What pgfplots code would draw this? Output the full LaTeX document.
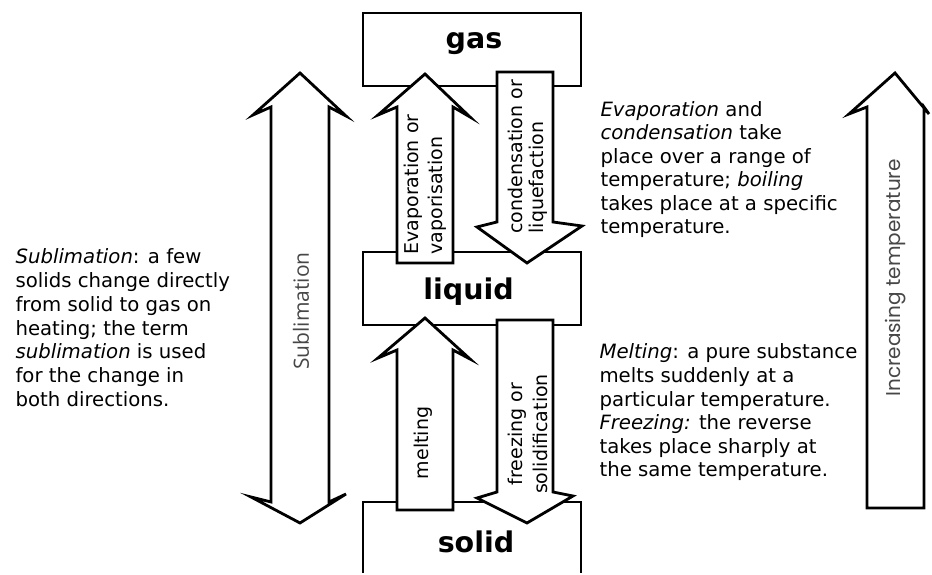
\documentclass[border=0pt]{standalone}
\usepackage{pgfplots}
\pgfplotsset{compat=1.18}
\usepackage{fontspec}
\setmainfont{DejaVu Sans}
\newfontfamily\subfont{Open Sans}
\newfontfamily\tempfont{Poppins}
\definecolor{txt}{HTML}{2E2E2E}
\newcommand{\bodyfont}{\fontsize{19.7}{23.6}\selectfont}
\newcommand{\arrfont}{\fontsize{19}{23}\selectfont}
\newcommand{\bigfont}{\fontsize{28.5}{30}\selectfont\bfseries}
\begin{document}
\begin{tikzpicture}
\begin{axis}[x=1pt,y=1pt,xmin=0,xmax=932,ymin=0,ymax=573,
  axis lines=none, clip=false, scale only axis,
  every node/.style={inner sep=0pt, text=txt},
  shp/.style={black, line width=2.8pt, fill=white, line join=miter, mark=none}]
\addplot[draw=none, mark=none] coordinates {(0,0) (932,573)};
% boxes
\addplot[shp] coordinates {(363,487) (581,487) (581,560) (363,560)} --cycle;
\addplot[shp] coordinates {(363,248) (581,248) (581,321) (363,321)} --cycle;
\addplot[shp] coordinates {(363,0) (363,71) (581,71) (581,0)};
% evaporation (up)
\addplot[shp] coordinates {(397,310) (397,466) (378,458) (425,499) (470,456) (453,466) (453,310)} --cycle;
% condensation (down)
\addplot[shp] coordinates {(497,501) (553,501) (553,351) (582,347) (527,310) (477,346) (497,351)} --cycle;
% melting (up)
\addplot[shp] coordinates {(397,63) (397,223) (378,215) (425,255) (470,214) (453,223) (453,63)} --cycle;
% freezing (down)
\addplot[shp] coordinates {(497,253) (553,253) (553,81) (573,77) (527,50) (477,75) (497,81)} --cycle;
% sublimation (double)
\addplot[shp] coordinates {(271,466) (253,458) (300,500) (346,457) (329,466) (329,71) (346,79) (300,50) (251,76) (271,71)} --cycle;
% increasing temperature
\addplot[shp] coordinates {(867,65) (867,466) (849,459) (895,500) (929,459) (924,466) (924,65)} --cycle;
% state labels
\node[anchor=base, font=\bigfont] at (axis cs:474,524) {gas};
\node[anchor=base, font=\bigfont] at (axis cs:468.5,273) {liquid};
\node[anchor=base, font=\bigfont] at (axis cs:476,20) {solid};
% arrow labels
\node[anchor=west, rotate=90, font=\arrfont] at (axis cs:413,315) {Evaporation or};
\node[anchor=west, rotate=90, font=\arrfont] at (axis cs:437,315) {vaporisation};
\node[anchor=west, rotate=90, font=\arrfont] at (axis cs:515,336) {condensation or};
\node[anchor=west, rotate=90, font=\arrfont] at (axis cs:538,336) {liquefaction};
\node[anchor=center, rotate=90, font=\arrfont] at (axis cs:423,130) {melting};
\node[anchor=center, rotate=90, font=\arrfont] at (axis cs:517,139) {freezing or};
\node[anchor=center, rotate=90, font=\arrfont] at (axis cs:540,139) {solidification};
\node[anchor=center, rotate=90, font=\subfont\fontsize{21}{24}\selectfont, text=black!72] at (axis cs:301,262) {Sublimation};
\node[anchor=center, rotate=90, font=\tempfont\fontsize{20}{22}\selectfont, text=black!72] at (axis cs:896,295) {Increasing temperature};
% left text
\node[anchor=base west, font=\bodyfont] at (axis cs:12,309) {\textit{Sublimation}: a few};
\node[anchor=base west, font=\bodyfont] at (axis cs:12,285.3) {solids change directly};
\node[anchor=base west, font=\bodyfont] at (axis cs:12,261.6) {from solid to gas on};
\node[anchor=base west, font=\bodyfont] at (axis cs:12,237.9) {heating; the term};
\node[anchor=base west, font=\bodyfont] at (axis cs:12,214.2) {\textit{sublimation} is used};
\node[anchor=base west, font=\bodyfont] at (axis cs:12,190.5) {for the change in};
\node[anchor=base west, font=\bodyfont] at (axis cs:12,166.8) {both directions.};
% right upper text
\node[anchor=base west, font=\bodyfont] at (axis cs:597,456.5) {\textit{Evaporation} and};
\node[anchor=base west, font=\bodyfont] at (axis cs:597,433.1) {\textit{condensation} take};
\node[anchor=base west, font=\bodyfont] at (axis cs:597,409.7) {place over a range of};
\node[anchor=base west, font=\bodyfont] at (axis cs:597,386.3) {temperature; \textit{boiling}};
\node[anchor=base west, font=\bodyfont] at (axis cs:597,362.9) {takes place at a specific};
\node[anchor=base west, font=\bodyfont] at (axis cs:597,339.5) {temperature.};
% right lower text
\node[anchor=base west, font=\bodyfont] at (axis cs:596,214) {\textit{Melting}: a pure substance};
\node[anchor=base west, font=\bodyfont] at (axis cs:596,190.4) {melts suddenly at a};
\node[anchor=base west, font=\bodyfont] at (axis cs:596,166.8) {particular temperature.};
\node[anchor=base west, font=\bodyfont] at (axis cs:596,143.2) {\textit{Freezing:} the reverse};
\node[anchor=base west, font=\bodyfont] at (axis cs:596,119.6) {takes place sharply at};
\node[anchor=base west, font=\bodyfont] at (axis cs:596,96) {the same temperature.};
\end{axis}
\end{tikzpicture}
\end{document}
